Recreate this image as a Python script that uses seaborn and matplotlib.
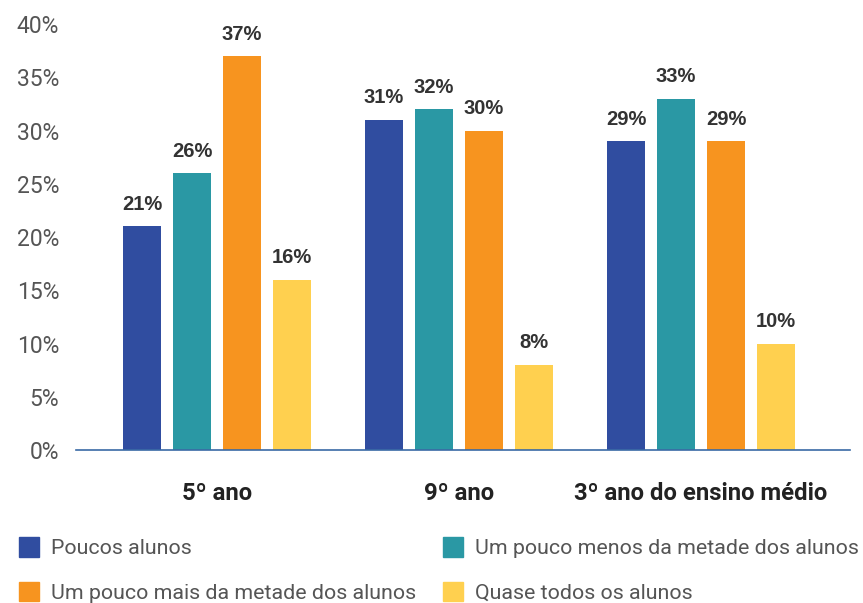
import matplotlib
matplotlib.use("Agg")
import matplotlib.pyplot as plt
import pandas as pd
import seaborn as sns

# Share of answers per school stage
stages = ["5º ano", "9º ano", "3º ano do ensino médio"]
categories = [
    "Poucos alunos",
    "Um pouco menos da metade dos alunos",
    "Um pouco mais da metade dos alunos",
    "Quase todos os alunos",
]
poucos = [21, 31, 29]
menos_metade = [26, 32, 33]
mais_metade = [37, 30, 29]
quase_todos = [16, 8, 10]
yticks = [0, 5, 10, 15, 20, 25, 30, 35, 40]

colors = ["#304DA0", "#2A98A4", "#F7941F", "#FFD04F"]

rows = []
for cat, vals in zip(categories, [poucos, menos_metade, mais_metade, quase_todos]):
    for st, v in zip(stages, vals):
        rows.append({"stage": st, "category": cat, "value": v})
df = pd.DataFrame(rows)

sns.set_theme(style="white")
plt.rcParams["font.family"] = ["Roboto", "DejaVu Sans"]

fig = plt.figure(figsize=(8.63, 6.03), dpi=100)
ax = fig.add_axes([0.088, 0.2537, 0.897, 0.7063])

sns.barplot(
    data=df, x="stage", y="value", hue="category",
    order=stages, hue_order=categories, palette=colors,
    width=0.826, gap=0.24, saturation=1, legend=False, ax=ax,
    edgecolor="none", linewidth=0,
)

ax.set_ylim(0, 40)
ax.set_xlim(-0.583, 2.616)
ax.set_yticks(yticks)
ax.set_yticklabels([f"{t}%" for t in yticks], fontsize=16.5, color="#555555")
ax.tick_params(axis="y", length=0, pad=12)
ax.tick_params(axis="x", length=0, pad=23)
for lbl in ax.get_xticklabels():
    lbl.set_fontsize(17.2)
    lbl.set_fontweight("bold")
    lbl.set_color("#222222")
ax.set_xlabel("")
ax.set_ylabel("")

for side in ["top", "right", "left"]:
    ax.spines[side].set_visible(False)
ax.spines["bottom"].set_color("#3A6AA5")
ax.spines["bottom"].set_linewidth(1.2)

for cont in ax.containers:
    ax.bar_label(
        cont, labels=[f"{v:.0f}%" for v in cont.datavalues], padding=9,
        fontsize=14.5, fontweight="bold", color="#333333",
        family=["Liberation Sans", "DejaVu Sans"],
    )

handles = [plt.Rectangle((0, 0), 1, 1, color=c) for c in colors]
order = [0, 2, 1, 3]
fig.legend(
    [handles[i] for i in order], [categories[i] for i in order],
    ncol=2, loc="upper left", bbox_to_anchor=(0.022, 0.109),
    frameon=False, fontsize=15.4, labelcolor="#555555",
    handlelength=0.95, handleheight=1.05, handletextpad=0.55,
    columnspacing=1.25, labelspacing=1.08, borderaxespad=0, borderpad=0,
)

fig.savefig("out.png", dpi=100)
